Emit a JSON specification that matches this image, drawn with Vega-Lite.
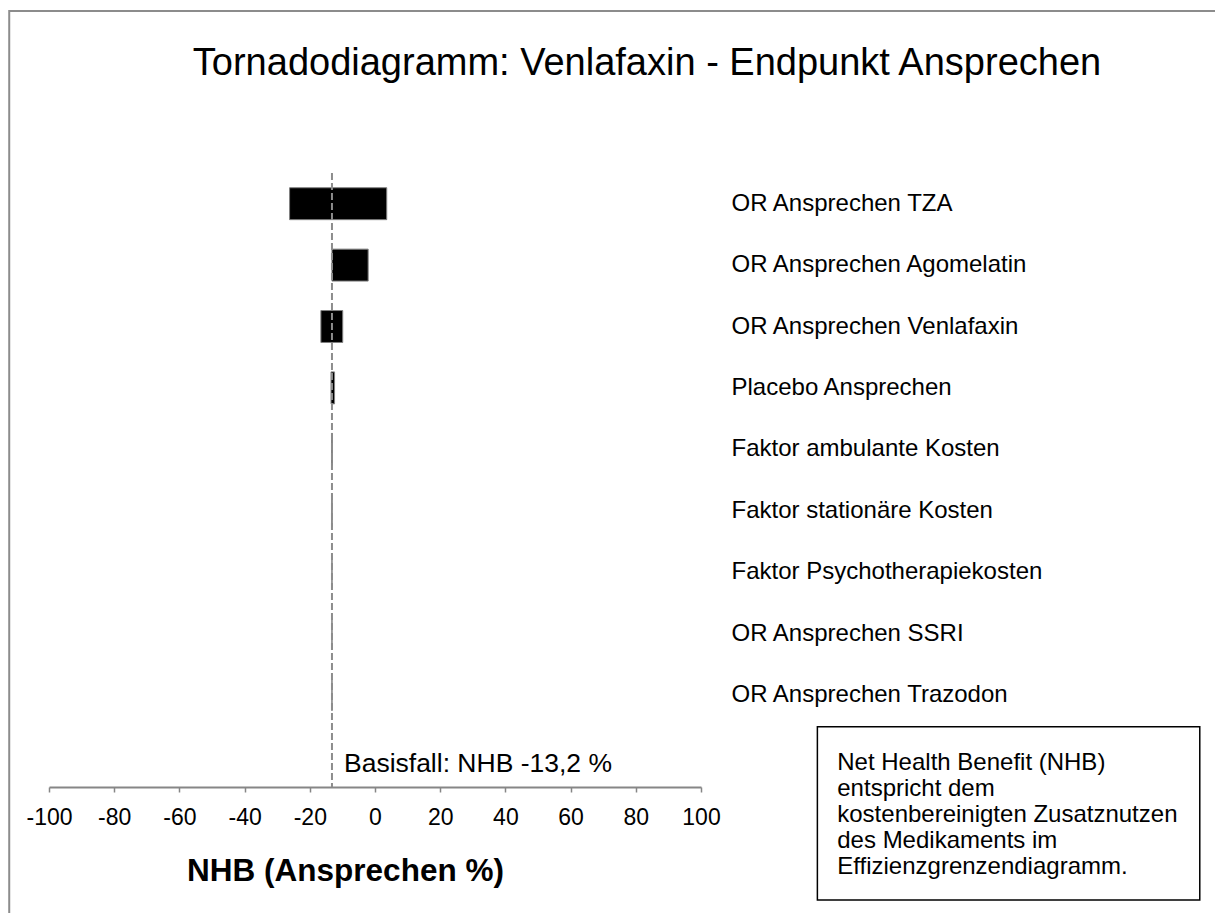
{
  "$schema": "https://vega.github.io/schema/vega-lite/v6.json",
  "autosize": "none",
  "padding": {"left": 49, "top": 173, "right": 514, "bottom": 126},
  "width": 652,
  "height": 614,
  "background": "white",
  "config": {"view": {"stroke": null}, "font": "Liberation Sans"},
  "title": {
    "text": "Tornadodiagramm: Venlafaxin - Endpunkt Ansprechen",
    "font": "Liberation Sans",
    "fontSize": 38,
    "fontWeight": "normal",
    "color": "black",
    "anchor": "middle",
    "frame": "group",
    "dx": 272,
    "offset": -73
  },
  "data": {
    "values": [
      {"param": "OR Ansprechen TZA", "low": -26.2, "high": 3.6},
      {"param": "OR Ansprechen Agomelatin", "low": -13.2, "high": -2.1},
      {"param": "OR Ansprechen Venlafaxin", "low": -16.6, "high": -9.9},
      {"param": "Placebo Ansprechen", "low": -13.5, "high": -12.4},
      {"param": "Faktor ambulante Kosten", "low": -13.3, "high": -13.1},
      {"param": "Faktor stationäre Kosten", "low": -13.25, "high": -13.15},
      {"param": "Faktor Psychotherapiekosten", "low": -13.2, "high": -13.2},
      {"param": "OR Ansprechen SSRI", "low": -13.2, "high": -13.2},
      {"param": "OR Ansprechen Trazodon", "low": -13.2, "high": -13.2}
    ]
  },
  "resolve": {"scale": {"y": "independent"}},
  "layer": [
    {
      "data": {"values": [{}]},
      "mark": {"type": "rect", "filled": false, "stroke": "#8c8c8c", "strokeWidth": 2, "clip": false},
      "encoding": {
        "x": {"datum": -112.2, "type": "quantitative"},
        "x2": {"datum": 275},
        "y": {"datum": -2.64, "type": "quantitative", "scale": {"domain": [0, 10], "reverse": true, "nice": false, "zero": false}, "axis": null},
        "y2": {"datum": 12.8}
      }
    },
    {
      "mark": {"type": "bar", "color": "black", "stroke": "#7f7f7f", "strokeWidth": 1},
      "encoding": {
        "y": {
          "field": "param",
          "type": "nominal",
          "sort": null,
          "scale": {
            "domain": ["OR Ansprechen TZA", "OR Ansprechen Agomelatin", "OR Ansprechen Venlafaxin", "Placebo Ansprechen", "Faktor ambulante Kosten", "Faktor stationäre Kosten", "Faktor Psychotherapiekosten", "OR Ansprechen SSRI", "OR Ansprechen Trazodon", " "],
            "paddingInner": 0.48,
            "paddingOuter": 0.24
          },
          "axis": {
            "orient": "right",
            "title": null,
            "domain": false,
            "ticks": false,
            "labelPadding": 30,
            "labelAlign": "left",
            "labelFont": "Liberation Sans",
            "labelFontSize": 24,
            "labelColor": "black",
            "labelLimit": 400
          }
        },
        "x": {
          "field": "low",
          "type": "quantitative",
          "scale": {"domain": [-100, 100], "nice": false, "zero": false},
          "axis": {
            "title": "NHB (Ansprechen %)",
            "titleFont": "Liberation Sans",
            "titleFontSize": 31.5,
            "titleFontWeight": "bold",
            "titleColor": "black",
            "titleX": 296,
            "titlePadding": 26,
            "values": [-100, -95, -90, -85, -80, -75, -70, -65, -60, -55, -50, -45, -40, -35, -30, -25, -20, -15, -10, -5, 0, 5, 10, 15, 20, 25, 30, 35, 40, 45, 50, 55, 60, 65, 70, 75, 80, 85, 90, 95, 100],
            "labelExpr": "datum.value % 20 === 0 ? '' + datum.value : ''",
            "labelFont": "Liberation Sans",
            "labelFontSize": 23,
            "labelColor": "black",
            "labelPadding": 14,
            "labelOverlap": false,
            "labelFlush": false,
            "grid": false,
            "tickSize": 5,
            "tickColor": "#868686",
            "tickWidth": 1.5,
            "domainColor": "#868686",
            "domainWidth": 2
          }
        },
        "x2": {"field": "high"}
      }
    },
    {
      "data": {"values": [{}]},
      "mark": {"type": "rule", "color": "#8c8c8c", "strokeWidth": 2, "strokeDash": [7, 3]},
      "encoding": {"x": {"datum": -13.2, "type": "quantitative"}}
    },
    {
      "data": {"values": [{}]},
      "mark": {"type": "text", "align": "left", "baseline": "middle", "dx": 12, "fontSize": 26.5, "font": "Liberation Sans", "color": "black", "clip": false},
      "encoding": {
        "x": {"datum": -13.2, "type": "quantitative"},
        "y": {"datum": 9.63, "type": "quantitative", "scale": {"domain": [0, 10], "reverse": true, "nice": false, "zero": false}, "axis": null},
        "text": {"value": "Basisfall: NHB -13,2 %"}
      }
    },
    {
      "data": {"values": [{}]},
      "mark": {"type": "rect", "fill": "white", "stroke": "black", "strokeWidth": 1.5, "clip": false},
      "encoding": {
        "x": {"datum": 135.7, "type": "quantitative"},
        "x2": {"datum": 253},
        "y": {"datum": 9.02, "type": "quantitative", "scale": {"domain": [0, 10], "reverse": true, "nice": false, "zero": false}, "axis": null},
        "y2": {"datum": 11.84}
      }
    },
    {
      "data": {"values": [{}]},
      "mark": {"type": "text", "align": "left", "baseline": "top", "fontSize": 24, "lineHeight": 26, "font": "Liberation Sans", "color": "black", "clip": false},
      "encoding": {
        "x": {"datum": 141.8, "type": "quantitative"},
        "y": {"datum": 9.42, "type": "quantitative", "scale": {"domain": [0, 10], "reverse": true, "nice": false, "zero": false}, "axis": null},
        "text": {"value": ["Net Health Benefit (NHB)", "entspricht dem", "kostenbereinigten Zusatznutzen", "des Medikaments im", "Effizienzgrenzendiagramm."]}
      }
    }
  ]
}
